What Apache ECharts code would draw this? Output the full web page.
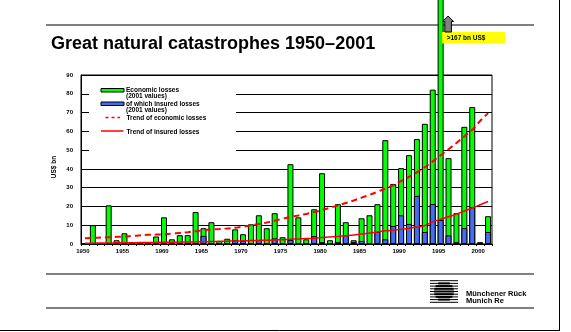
<!DOCTYPE html>
<html>
<head>
<meta charset="utf-8">
<script src="https://cdn.jsdelivr.net/npm/echarts@6/dist/echarts.min.js"></script>
<style>
  html, body { margin: 0; padding: 0; background: #fff; }
  #chart { width: 571px; height: 332px; }
</style>
</head>
<body>
<div id="chart"></div>
<script>
// Years on the category axis
const years = ['1950','1951','1952','1953','1954','1955','1956','1957','1958','1959',
  '1960','1961','1962','1963','1964','1965','1966','1967','1968','1969',
  '1970','1971','1972','1973','1974','1975','1976','1977','1978','1979',
  '1980','1981','1982','1983','1984','1985','1986','1987','1988','1989',
  '1990','1991','1992','1993','1994','1995','1996','1997','1998','1999',
  '2000','2001'];

// Economic losses, US$ bn (2001 values)
const economicLosses = [0, 10, 0, 20.6, 2, 5.7, 0.5, 0, 0, 4,
  14.2, 2.5, 4.7, 4.7, 17, 8.4, 11.6, 1.5, 2.8, 7.8,
  5.2, 10.5, 15.3, 8.4, 16.4, 3.6, 42.5, 14.2, 2.5, 18.5,
  37.7, 2, 21.2, 11.6, 2, 13.7, 15.3, 21.2, 55.3, 32,
  40.4, 47.3, 55.9, 64, 82.2, 167, 45.7, 16.4, 62.4, 72.9,
  1, 14.8];

// Of which insured losses, US$ bn (2001 values)
const insuredLosses = [0, 0, 0, 0, 0, 0, 0, 0, 0, 0,
  0, 0, 0, 0, 0, 4.3, 0.3, 0.3, 0.5, 2,
  1.7, 0.3, 2.1, 0.5, 3, 0.5, 2.2, 0.5, 0.5, 4.2,
  1, 0.3, 1, 4.7, 1, 1.6, 0.5, 6.4, 2.5, 9.6,
  15.3, 10.7, 25.6, 6.4, 21.3, 12.8, 4.6, 1, 8.5, 19.6,
  0.5, 6.4];

// Trend of economic losses
const economicTrend = [3.0, 3.2, 3.4, 3.6, 3.8, 4.0, 4.3, 4.6, 4.9, 5.0,
  5.2, 5.5, 5.9, 6.3, 6.8, 7.3, 7.7, 8.0, 8.3, 8.7,
  9.2, 9.9, 10.6, 11.4, 12.4, 13.5, 14.4, 15.2, 16.0, 17.0,
  18.1, 19.3, 20.5, 21.8, 23.2, 24.7, 26.2, 27.8, 29.5, 31.2,
  33.5, 35.8, 38.2, 40.9, 44.0, 47.3, 50.5, 53.8, 57.3, 60.8,
  65.5, 69.7];

// Trend of insured losses
const insuredTrend = [0.4, 0.45, 0.5, 0.55, 0.6, 0.65, 0.7, 0.75, 0.8, 0.85,
  0.9, 0.95, 1.0, 1.05, 1.1, 1.2, 1.3, 1.4, 1.5, 1.6,
  1.7, 1.8, 1.9, 2.0, 2.1, 2.3, 2.5, 2.7, 2.9, 3.1,
  3.4, 3.7, 4.0, 4.4, 4.8, 5.3, 5.8, 6.4, 7.0, 7.4,
  7.8, 8.4, 9.0, 9.8, 11.8, 13.2, 14.5, 15.9, 17.6, 19.2,
  20.9, 22.6];

const yTicks = { min: 0, max: 90, interval: 10 };
const FONT = '"Liberation Sans", Arial, sans-serif';
const GREEN = '#00ff00';
const BLUE = '#4070f0';
const RED = '#ff0000';

const chart = echarts.init(document.getElementById('chart'), null, { renderer: 'canvas' });

function txt(x, y, s, size, extra) {
  return Object.assign({
    type: 'text', x: x, y: y, z: 5,
    style: { text: s, fill: '#000', font: 'bold ' + size + 'px ' + FONT, verticalAlign: 'middle', align: 'left' }
  }, extra || {});
}
function hline(x1, x2, y, z) {
  return { type: 'line', z: z || 0, shape: { x1: x1, y1: y, x2: x2, y2: y }, style: { stroke: '#000', lineWidth: 1 } };
}

// Munich Re style logo: striped globe
function logo(cx, cy) {
  const els = [];
  const half = 14, r = 10;
  for (let i = -4; i <= 4; i++) {
    const y = cy + i * 2.7;
    els.push({ type: 'line', z: 5, shape: { x1: cx - half, y1: y, x2: cx + half, y2: y }, style: { stroke: '#000', lineWidth: 1 } });
    const dy = Math.abs(i * 2.7);
    if (dy < r) {
      const w = Math.sqrt(r * r - dy * dy);
      els.push({ type: 'line', z: 5, shape: { x1: cx - w, y1: y, x2: cx + w, y2: y }, style: { stroke: '#000', lineWidth: 2 } });
    }
  }
  return els;
}

const option = {
  animation: false,
  backgroundColor: '#fff',
  title: {
    text: 'Great natural catastrophes 1950–2001',
    left: 46, top: 30,
    textStyle: { fontFamily: FONT, fontSize: 18, fontWeight: 'bold', color: '#000' }
  },
  grid: { left: 81, right: 79, top: 75, bottom: 88, show: true, borderColor: '#000', borderWidth: 1 },
  xAxis: {
    type: 'category',
    data: years,
    boundaryGap: true,
    axisLine: { lineStyle: { color: '#000', width: 1 } },
    axisTick: { show: true, interval: 0, length: 2, lineStyle: { color: '#000' } },
    axisLabel: { interval: 4, fontSize: 6, fontWeight: 'bold', fontFamily: FONT, color: '#000', margin: 4, padding: [0, 4, 0, 0] },
    splitLine: { show: false }
  },
  yAxis: {
    type: 'value',
    min: yTicks.min, max: yTicks.max, interval: yTicks.interval,
    axisLine: { show: true, lineStyle: { color: '#000', width: 1 } },
    axisTick: { show: false },
    axisLabel: { fontSize: 6, fontWeight: 'bold', fontFamily: FONT, color: '#000', margin: 8 },
    splitLine: { show: true, lineStyle: { color: '#000', width: 1 } }
  },
  series: [
    {
      name: 'Economic losses (2001 values)',
      type: 'bar', data: economicLosses, barWidth: 6, clip: false, z: 2,
      itemStyle: { color: GREEN, borderColor: '#000', borderWidth: 1 }
    },
    {
      name: 'of which insured losses (2001 values)',
      type: 'bar', data: insuredLosses, barWidth: 6, barGap: '-100%', z: 3,
      itemStyle: { color: BLUE, borderColor: '#000', borderWidth: 1 }
    },
    {
      name: 'Trend of economic losses',
      type: 'line', data: economicTrend, smooth: true, symbol: 'none', z: 4,
      lineStyle: { color: RED, width: 2, type: [6, 4] }
    },
    {
      name: 'Trend of insured losses',
      type: 'line', data: insuredTrend, smooth: true, symbol: 'none', z: 4,
      lineStyle: { color: RED, width: 1.5 }
    }
  ]
};

chart.setOption(option);

// Position of the off-scale 1995 bar, for its arrow and caption
const px1995 = chart.convertToPixel({ xAxisIndex: 0 }, '1995');
const ax = px1995 + 7.5;

const graphics = [
  // page rules
  hline(46, 534, 25, 0),
  hline(46, 534, 274, 0),
  hline(46, 534, 308, 0),
  { type: 'line', z: 0, shape: { x1: 559.5, y1: 0, x2: 559.5, y2: 331 }, style: { stroke: '#000', lineWidth: 1 } },
  { type: 'line', z: 0, shape: { x1: 0, y1: 330.5, x2: 559.5, y2: 330.5 }, style: { stroke: '#000', lineWidth: 1 } },
  // axis title
  txt(54.5, 167, 'US$ bn', 6.5, { rotation: Math.PI / 2, style: { text: 'US$ bn', fill: '#000', font: 'bold 6.5px ' + FONT, align: 'center', verticalAlign: 'middle' } }),
  // legend background over the grid
  { type: 'rect', z: 1, shape: { x: 89, y: 78, width: 147, height: 77 }, style: { fill: '#fff' } },
  // legend keys
  { type: 'rect', z: 5, shape: { x: 101, y: 88.5, width: 23, height: 3.5 }, style: { fill: GREEN, stroke: '#000', lineWidth: 1 } },
  txt(126, 90, 'Economic losses', 6.5),
  txt(126, 96.5, '(2001 values)', 6.5),
  { type: 'rect', z: 5, shape: { x: 101, y: 102, width: 23, height: 3.5 }, style: { fill: BLUE, stroke: '#000', lineWidth: 1 } },
  txt(126, 104, 'of which insured losses', 6.5),
  txt(126, 110.5, '(2001 values)', 6.5),
  { type: 'line', z: 5, shape: { x1: 105.5, y1: 117.5, x2: 120, y2: 117.5 }, style: { stroke: RED, lineWidth: 1.5, lineDash: [3, 3] } },
  txt(126.5, 118, 'Trend of economic losses', 6.5),
  { type: 'line', z: 5, shape: { x1: 101, y1: 131, x2: 123.5, y2: 131 }, style: { stroke: RED, lineWidth: 1.5 } },
  txt(126.5, 132, 'Trend of insured losses', 6.5),
  // caption for the off-scale bar
  { type: 'rect', z: 9, shape: { x: px1995 + 1.5, y: 32, width: 63, height: 11.5 }, style: { fill: '#ffff00' } },
  txt(px1995 + 6, 37.8, '>167 bn US$', 6.5, { z: 10 }),
  {
    type: 'polygon', z: 10,
    shape: { points: [[ax, 16], [ax + 5.5, 21.5], [ax + 3.3, 21.5], [ax + 3.3, 32], [ax - 3.3, 32], [ax - 3.3, 21.5], [ax - 5.5, 21.5]] },
    style: { fill: '#808080', stroke: '#000', lineWidth: 1 }
  },
  // company mark
  txt(466, 294, 'Münchener Rück', 7.5),
  txt(466, 300.5, 'Munich Re', 7.5)
].concat(logo(444, 291.5));

chart.setOption({ graphic: { elements: graphics } });
</script>
</body>
</html>
